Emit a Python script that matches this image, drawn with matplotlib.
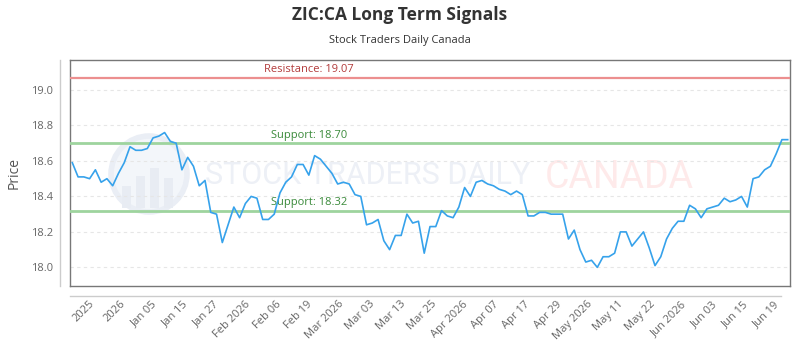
import numpy as np
import matplotlib.pyplot as plt
from matplotlib.patches import Circle, Rectangle

# daily closes
prices = [18.59, 18.51, 18.51, 18.50, 18.55, 18.48, 18.50, 18.46, 18.53, 18.59,
          18.68, 18.66, 18.66, 18.67, 18.73, 18.74, 18.76, 18.71, 18.70, 18.55,
          18.62, 18.57, 18.46, 18.49, 18.31, 18.30, 18.14, 18.24, 18.34, 18.28,
          18.36, 18.40, 18.39, 18.27, 18.27, 18.30, 18.42, 18.48, 18.51, 18.58,
          18.58, 18.52, 18.63, 18.61, 18.57, 18.53, 18.47, 18.48, 18.47, 18.41,
          18.40, 18.24, 18.25, 18.27, 18.15, 18.10, 18.18, 18.18, 18.30, 18.25,
          18.26, 18.08, 18.23, 18.23, 18.32, 18.29, 18.28, 18.34, 18.45, 18.40,
          18.48, 18.49, 18.47, 18.46, 18.44, 18.43, 18.41, 18.43, 18.41, 18.29,
          18.29, 18.31, 18.31, 18.30, 18.30, 18.30, 18.16, 18.21, 18.10, 18.03,
          18.04, 18.00, 18.06, 18.06, 18.08, 18.20, 18.20, 18.12, 18.16, 18.20,
          18.11, 18.01, 18.06, 18.16, 18.22, 18.26, 18.26, 18.35, 18.33, 18.28,
          18.33, 18.34, 18.35, 18.39, 18.37, 18.38, 18.40, 18.34, 18.50, 18.51,
          18.55, 18.57, 18.64, 18.72, 18.72]

x_labels = ['2025', '2026', 'Jan 05', 'Jan 15', 'Jan 27', 'Feb 2026', 'Feb 06',
            'Feb 19', 'Mar 2026', 'Mar 03', 'Mar 13', 'Mar 25', 'Apr 2026',
            'Apr 07', 'Apr 17', 'Apr 29', 'May 2026', 'May 11', 'May 22',
            'Jun 2026', 'Jun 03', 'Jun 15', 'Jun 19']

resistance = [19.07]
supports = [18.70, 18.32]
y_ticks = [18.0, 18.2, 18.4, 18.6, 18.8, 19.0]

plt.rcParams['font.family'] = ['Open Sans', 'DejaVu Sans']

fig = plt.figure(figsize=(8, 3.5), dpi=100)
ax = fig.add_axes([70/800, 1-286/350, 720/800, 226/350])

# faint watermark behind the data
ax.add_patch(Circle((1.49, 3.5-1.74), 0.38, transform=fig.dpi_scale_trans,
                    facecolor='#f3f6fa', edgecolor='#eaeef5', lw=4, zorder=0, clip_on=False))
for bx, bh in [(1.22, 0.22), (1.36, 0.32), (1.50, 0.40), (1.64, 0.30)]:
    ax.add_patch(Rectangle((bx, 3.5-2.08), 0.09, bh, transform=fig.dpi_scale_trans,
                           facecolor='#e8ecf3', edgecolor='none', zorder=0, clip_on=False))
ax.text((205-70)/720, (286-175)/226, 'STOCK TRADERS DAILY', transform=ax.transAxes,
        fontsize=22, color='#edf0f6', ha='left', va='center', zorder=0, family='Roboto')
ax.text((545-70)/720, (286-177)/226, 'CANADA', transform=ax.transAxes,
        fontsize=27, color='#feeaea', ha='left', va='center', zorder=0, family='Roboto')

x = np.arange(len(prices))
ax.plot(x, prices, color='#36a2eb', lw=1.2, zorder=4)

for r in resistance:
    ax.axhline(r, color='#ec8f8f', lw=1.6, zorder=3)
    ax.text(0.332, r + 0.012, f'Resistance: {r:.2f}', transform=ax.get_yaxis_transform(),
            ha='center', va='bottom', color='#b23b3b', fontsize=8)
for s in supports:
    ax.axhline(s, color='#9ed49e', lw=2.0, zorder=3)
    ax.text(0.332, s + 0.014, f'Support: {s:.2f}', transform=ax.get_yaxis_transform(),
            ha='center', va='bottom', color='#3a8a3a', fontsize=8)

ax.set_xlim(-0.4, 124.4)
ax.set_ylim(17.895, 19.169)
ax.set_yticks(y_ticks)
ax.set_yticklabels([f'{v:.1f}' for v in y_ticks])
ax.set_xticks(np.linspace(3.5, 122.3, len(x_labels)))
ax.set_xticklabels(x_labels, rotation=45, ha='right', va='center', rotation_mode='anchor')
ax.tick_params(axis='both', length=0, labelsize=8, labelcolor='#666666')
ax.tick_params(axis='x', pad=12)
ax.tick_params(axis='y', pad=12)
ax.grid(axis='y', color='#e6e6e6', lw=0.8, ls=(0, (3, 3)))
ax.set_axisbelow(True)
for sp in ax.spines.values():
    sp.set_color('#777777')
    sp.set_linewidth(1.0)

# offset axis lines
ax.plot([-10/720, -10/720], [0, 1], transform=ax.transAxes, color='#cccccc', lw=1, clip_on=False)
ax.plot([0, 711/720], [-10/226, -10/226], transform=ax.transAxes, color='#cccccc', lw=1, clip_on=False)

ax.set_ylabel('Price', fontsize=10, color='#555555', labelpad=7)

fig.text(0.5, 1-15/350, 'ZIC:CA Long Term Signals', ha='center', va='center',
         fontsize=12.5, fontweight='bold', color='#333333')
fig.text(0.5, 1-41/350, 'Stock Traders Daily Canada', ha='center', va='center',
         fontsize=8, color='#333333')

fig.savefig('out.png', dpi=100)
